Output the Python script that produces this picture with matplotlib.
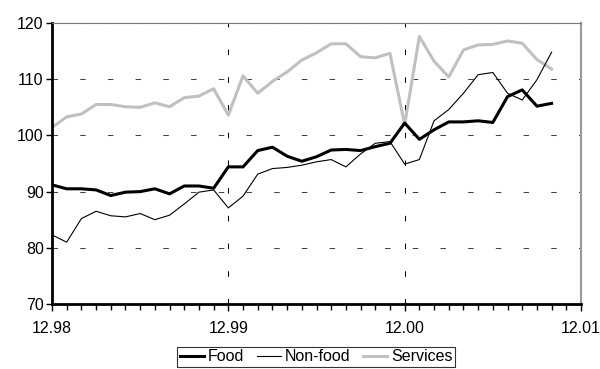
import numpy as np
import matplotlib
matplotlib.use('Agg')
import matplotlib.pyplot as plt

plt.rcParams['font.family'] = ['Liberation Sans', 'DejaVu Sans']

# Monthly indices, Dec 1998 .. Oct 2001
food = [91.2, 90.5, 90.5, 90.3, 89.3, 89.9, 90.0, 90.5, 89.6, 91.0,
        91.0, 90.6, 94.4, 94.4, 97.3, 97.9, 96.3, 95.4, 96.2, 97.4,
        97.5, 97.3, 98.0, 98.6, 102.2, 99.3, 101.0, 102.4, 102.4, 102.6,
        102.3, 106.9, 108.1, 105.2, 105.7]
non_food = [82.3, 81.0, 85.2, 86.5, 85.7, 85.5, 86.1, 85.0, 85.8, 87.8,
            89.9, 90.3, 87.1, 89.2, 93.1, 94.1, 94.3, 94.7, 95.3, 95.7,
            94.4, 96.7, 98.6, 98.9, 94.9, 95.7, 102.6, 104.6, 107.5, 110.8,
            111.2, 107.5, 106.3, 109.9, 114.8]
services = [101.4, 103.3, 103.8, 105.5, 105.5, 105.1, 105.0, 105.8, 105.1, 106.7,
            107.0, 108.3, 103.6, 110.6, 107.5, 109.6, 111.3, 113.4, 114.7, 116.3,
            116.3, 114.0, 113.8, 114.6, 101.9, 117.6, 113.2, 110.4, 115.2, 116.1,
            116.2, 116.8, 116.4, 113.5, 111.8]

year_labels = ['12.98', '12.99', '12.00', '12.01']
months = np.arange(len(food))

fig = plt.figure(figsize=(6.0, 3.69), dpi=100)
ax = fig.add_axes([52 / 600, 1 - 304 / 369, 529 / 600, 281 / 369])

ax.plot(months, food, color='black', lw=2.2, label='Food', zorder=4)
ax.plot(months, non_food, color='black', lw=0.8, label='Non-food', zorder=3)
ax.plot(months, services, color='#c0c0c0', lw=2.2, label='Services', zorder=2)

ax.set_xlim(0, 36)
ax.set_ylim(70, 120)
ax.set_xticks([0, 12, 24, 36])
ax.set_xticklabels(year_labels)
ax.set_xticks(np.arange(0, 37), minor=True)
ax.set_yticks(np.arange(70, 121, 10))

# dashed grid, dash pattern given in multiples of the line width
dash = (0, (5.3, 21.3))
for y in [80, 90, 100, 110, 120]:
    ax.axhline(y, color='#444444', lw=0.75, ls=dash, zorder=1)
for x in [12, 24]:
    ax.axvline(x, color='black', lw=0.75, ls=dash, zorder=1)

for side in ['left', 'bottom']:
    ax.spines[side].set_linewidth(2.0)
ax.spines['top'].set_linewidth(0.8)
ax.spines['top'].set_color('#777777')
ax.spines['right'].set_linewidth(1.5)
ax.spines['right'].set_color('#999999')

ax.tick_params(axis='both', which='both', direction='out', labelsize=11.5, width=1)
ax.tick_params(axis='x', which='major', length=5, pad=7)
ax.tick_params(axis='x', which='minor', length=4)
ax.tick_params(axis='y', which='major', length=4, pad=2)

leg = fig.legend(loc='upper center', bbox_to_anchor=(316 / 600, 1 - 347 / 369),
                 ncol=3, frameon=True, fancybox=False, fontsize=11.5,
                 handlelength=1.5, handletextpad=0.25, columnspacing=0.8,
                 borderpad=0.15, borderaxespad=0)
leg.get_frame().set_edgecolor('black')
leg.get_frame().set_linewidth(0.8)

fig.savefig('out.png', dpi=100)
